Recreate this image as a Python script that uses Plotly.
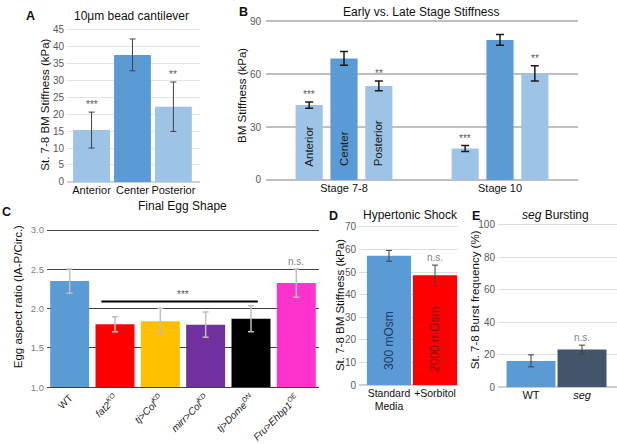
import plotly.graph_objects as go

W, H = 617, 444

# ---- data ----
# A: 10um bead cantilever
a_regions = ["Anterior", "Center", "Posterior"]
a_stiffness = [15.3, 37.5, 22.2]
a_error = [5.3, 4.7, 7.3]
a_sig = ["***", "", "**"]

# B: early vs late stage
b_stages = ["Stage 7-8", "Stage 10"]
b_regions = ["Anterior", "Center", "Posterior"]
b_anterior = [42.5, 17.8]
b_anterior_err = [1.8, 1.7]
b_center = [69.0, 79.5]
b_center_err = [3.9, 3.0]
b_posterior = [53.4, 60.5]
b_posterior_err = [2.8, 4.3]
b_sig_anterior = ["***", "***"]
b_sig_posterior = ["**", "**"]

# C: final egg shape
c_genotypes = ["WT", "fat2KO", "tj>ColKD", "mirr>ColKD", "tj>DomeDN", "Fru>Ehbp1OE"]
c_ticktext = ["WT",
              "<i>fat2</i><sup><i>KO</i></sup>",
              "<i>tj&gt;Col</i><sup><i>KD</i></sup>",
              "<i>mirr&gt;Col</i><sup><i>KD</i></sup>",
              "<i>tj&gt;Dome</i><sup><i>DN</i></sup>",
              "<i>Fru&gt;Ehbp1</i><sup><i>OE</i></sup>"]
c_ratio = [2.35, 1.80, 1.84, 1.795, 1.87, 2.325]
c_error = [0.155, 0.095, 0.165, 0.16, 0.165, 0.18]
c_colors = ["#5B9BD5", "#FF0000", "#FFC000", "#7030A0", "#000000", "#FF33CC"]
c_sig_line = 2.09

# D: hypertonic shock
d_media = ["Standard<br>Media", "+Sorbitol"]
d_osm = ["300 mOsm", "2000 mOsm"]
d_stiffness = [57.2, 48.6]
d_error = [2.4, 4.5]

# E: seg bursting
e_genotypes = ["WT", "<i>seg</i>"]
e_burst = [16.2, 23.2]
e_error = [3.7, 2.7]

LIGHT = "#9DC3E6"
MID = "#5B9BD5"
FONT = "Liberation Sans, Arial, sans-serif"


def px(x):
    return x / W


def py(y):
    return 1 - y / H


fig = go.Figure()

# A
fig.add_trace(go.Bar(x=a_regions, y=a_stiffness, width=0.9,
                     marker=dict(color=[LIGHT, MID, LIGHT], line=dict(width=0)),
                     error_y=dict(type="data", array=a_error, color="#404040",
                                  thickness=1, width=3),
                     xaxis="x", yaxis="y"))

# B
b_sets = [(b_anterior, b_anterior_err, LIGHT), (b_center, b_center_err, MID),
          (b_posterior, b_posterior_err, LIGHT)]
for name, (vals, errs, col) in zip(b_regions, b_sets):
    fig.add_trace(go.Bar(x=b_stages, y=vals, name=name,
                         marker=dict(color=col, line=dict(width=0)),
                         error_y=dict(type="data", array=errs, color="#1a1a1a",
                                      thickness=1.5, width=4),
                         xaxis="x2", yaxis="y2"))

# C
fig.add_trace(go.Bar(x=c_genotypes, y=c_ratio, width=0.86,
                     marker=dict(color=c_colors, line=dict(width=0)),
                     error_y=dict(type="data", array=c_error, color="#BFBFBF",
                                  thickness=1.5, width=3),
                     xaxis="x3", yaxis="y3"))

# D
fig.add_trace(go.Bar(x=d_media, y=d_stiffness, width=0.96,
                     marker=dict(color=[MID, "#FF0000"], line=dict(width=0)),
                     error_y=dict(type="data", array=d_error, color="#404040",
                                  thickness=1, width=3),
                     xaxis="x4", yaxis="y4"))

# E
fig.add_trace(go.Bar(x=e_genotypes, y=e_burst, width=0.96,
                     marker=dict(color=[MID, "#44546A"], line=dict(width=0)),
                     error_y=dict(type="data", array=e_error, color="#404040",
                                  thickness=1, width=3),
                     xaxis="x5", yaxis="y5"))

ytick = dict(size=10, color="#595959", family=FONT)
xtick = dict(size=11, color="#111111", family=FONT)

fig.update_layout(
    width=W, height=H, margin=dict(l=0, r=0, t=0, b=0),
    paper_bgcolor="white", plot_bgcolor="white",
    showlegend=False, barmode="group", bargap=0.33, bargroupgap=0.22,
    font=dict(family=FONT, color="#111111"),
    xaxis=dict(domain=[px(67), px(200)], range=[-0.6, 2.65], anchor="y",
               tickfont=xtick, showgrid=False, tickangle=0),
    yaxis=dict(domain=[py(182), py(24)], range=[0, 45.6], dtick=5, anchor="x",
               tickfont=ytick, gridcolor="#E3E3E3", zerolinecolor="#D0D0D0",
               ticklabelstandoff=2),
    xaxis2=dict(domain=[px(266), px(578)], range=[-0.5, 1.5], anchor="y2",
                tickfont=xtick, showgrid=False, tickangle=0),
    yaxis2=dict(domain=[py(180), py(16)], range=[0, 91], dtick=30, anchor="x2",
                tickfont=ytick, gridcolor="#BFBFBF", gridwidth=1.5,
                zerolinecolor="#BFBFBF", zerolinewidth=1.5, ticklabelstandoff=4),
    xaxis3=dict(domain=[px(47), px(319)], range=[-0.5, 5.5], anchor="y3",
                tickvals=c_genotypes, ticktext=c_ticktext, tickangle=-45,
                tickfont=dict(size=10, color="#222222", family=FONT),
                showgrid=False, showline=True, linecolor="#404040", linewidth=1.2),
    yaxis3=dict(domain=[py(392), py(228)], range=[1, 3.04], dtick=0.5, tickformat=".1f",
                anchor="x3", tickfont=dict(size=9.5, color="#7F7F7F", family=FONT),
                gridcolor="#404040", gridwidth=1.2, ticklabelstandoff=2),
    xaxis4=dict(domain=[px(359), px(458)], range=[-0.652, 1.5], anchor="y4",
                tickfont=dict(size=10.5, color="#111111", family=FONT),
                showgrid=False, tickangle=0),
    yaxis4=dict(domain=[py(390), py(225)], range=[0, 71.3], dtick=10, anchor="x4",
                tickfont=ytick, gridcolor="#DDDDDD", zerolinecolor="#CFCFCF",
                ticklabelstandoff=2),
    xaxis5=dict(domain=[px(498), 1], range=[-0.647, 1.686], anchor="y5",
                tickfont=xtick, showgrid=False, tickangle=0),
    yaxis5=dict(domain=[py(392), py(223)], range=[0, 101.8], dtick=20, anchor="x5",
                tickfont=ytick, gridcolor="#DDDDDD", zerolinecolor="#CFCFCF",
                ticklabelstandoff=2),
)

ann = []


def paper_text(x, y, text, size=12, bold=False, **kw):
    t = "<b>%s</b>" % text if bold else text
    ann.append(dict(xref="paper", yref="paper", x=px(x), y=py(y), text=t,
                    xanchor="center", yanchor="middle", showarrow=False,
                    font=dict(size=size, family=FONT, color="#111111"), **kw))


# panel letters and titles
paper_text(30, 12, "A", 12.5, True)
paper_text(131, 12, "10μm bead cantilever", 12)
paper_text(243, 8, "B", 12.5, True)
paper_text(421, 8, "Early vs. Late Stage Stiffness", 12)
paper_text(6, 213, "C", 12.5, True)
paper_text(183, 207, "Final Egg Shape", 12)
paper_text(333, 217, "D", 12.5, True)
paper_text(410, 216, "Hypertonic Shock", 12)
paper_text(476, 217, "E", 12.5, True)
paper_text(555, 216, "<i>seg</i> Bursting", 12)

# y axis titles
paper_text(45, 103, "St. 7-8 BM Stiffness (kPa)", 11.5, textangle=-90)
paper_text(242, 94, "BM Stiffness (kPa)", 11.5, textangle=-90)
paper_text(18, 300, "Egg aspect ratio (IA-P/Circ.)", 11.5, textangle=-90)
paper_text(340, 308, "St. 7-8 BM Stiffness (kPa)", 11.5, textangle=-90)
paper_text(475, 302, "St. 7-8 Burst frequency (%)", 11.5, textangle=-90)

# A stars
for cat, v, e, s in zip(a_regions, a_stiffness, a_error, a_sig):
    if s:
        ann.append(dict(xref="x", yref="y", x=cat, y=v + e, text=s, showarrow=False,
                        yanchor="bottom", font=dict(size=10, color="#595959")))

# B stars and in-bar labels
slot = (1 - 0.33) / 3
offsets = [-slot, 0, slot]
for g in range(len(b_stages)):
    ann.append(dict(xref="x2", yref="y2", x=g + offsets[0],
                    y=b_anterior[g] + b_anterior_err[g], text=b_sig_anterior[g],
                    showarrow=False, yanchor="bottom",
                    font=dict(size=10, color="#595959")))
    ann.append(dict(xref="x2", yref="y2", x=g + offsets[2],
                    y=b_posterior[g] + b_posterior_err[g], text=b_sig_posterior[g],
                    showarrow=False, yanchor="bottom",
                    font=dict(size=10, color="#595959")))
for off, name in zip(offsets, b_regions):
    ann.append(dict(xref="x2", yref="y2", x=off, y=6.5, text=name, textangle=-90,
                    showarrow=False, xanchor="center", yanchor="bottom",
                    font=dict(size=11.5, color="#1a1a1a")))

# C significance
fig.add_shape(type="line", xref="x3", yref="y3", x0=0.7, x1=4.15,
              y0=c_sig_line, y1=c_sig_line, line=dict(color="#000000", width=2))
ann.append(dict(xref="x3", yref="y3", x=2.5, y=c_sig_line, text="***", showarrow=False,
                yanchor="bottom", font=dict(size=10, color="#595959")))
ann.append(dict(xref="x3", yref="y3", x=c_genotypes[-1], y=c_ratio[-1] + c_error[-1],
                text="n.s.", showarrow=False, yanchor="bottom",
                font=dict(size=10, color="#7F7F7F")))

# D labels
for cat, lab, col in zip(d_media, d_osm, ["#1F3864", "#7F0000"]):
    ann.append(dict(xref="x4", yref="y4", x=cat, y=20, text=lab, textangle=-90,
                    showarrow=False, xanchor="center", yanchor="middle",
                    font=dict(size=12, color=col)))
ann.append(dict(xref="x4", yref="y4", x=d_media[1], y=d_stiffness[1] + d_error[1],
                text="n.s.", showarrow=False, yanchor="bottom",
                font=dict(size=10, color="#7F7F7F")))

# E label
ann.append(dict(xref="x5", yref="y5", x=e_genotypes[1], y=e_burst[1] + e_error[1],
                text="n.s.", showarrow=False, yanchor="bottom",
                font=dict(size=10, color="#7F7F7F")))

fig.update_layout(annotations=ann)
# the page body has a default margin; drop it so the figure sits at 0,0
fig.write_html("out.html", config={"displayModeBar": False},
               post_script="document.body.style.margin='0';")
